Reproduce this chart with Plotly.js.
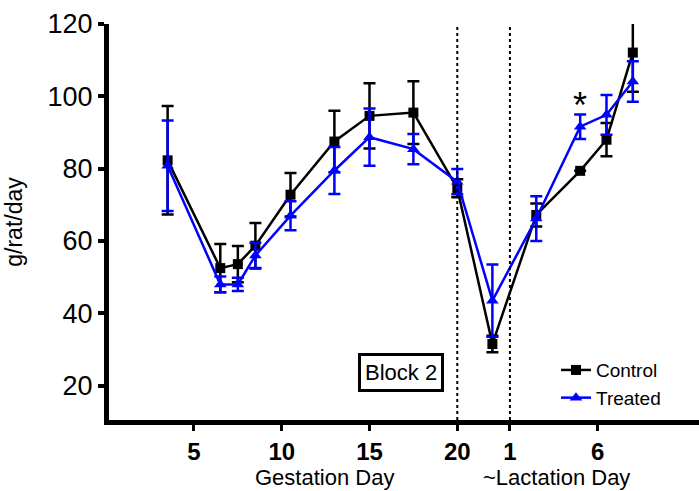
<!DOCTYPE html>
<html><head><meta charset="utf-8">
<script src="https://cdn.plot.ly/plotly-3.0.1.min.js"></script>
<style>html,body{margin:0;padding:0;background:#fff}#chart{width:699px;height:491px}</style>
</head><body><div id="chart"></div>
<script>
// x positions on a continuous day scale (gestation days, then lactation days offset by 22)
const dayPos = [3.5, 6.5, 7.5, 8.5, 10.5, 13, 15, 17.5, 20, 22, 24.5, 27, 28.5, 30];
const controlMean = [82.3, 52.5, 53.6, 58.7, 72.8, 87.5, 94.6, 95.5, 74.6, 31.5, 67.2, 79.4, 88.0, 112.1];
const controlErr  = [15, 6.7, 5, 6.3, 6, 8.5, 9, 8.7, 2.5, 2.3, 3.2, 0, 4.6, 10.8];
const treatedMean = [80.8, 48, 48, 56, 67, 79.5, 88.7, 85.4, 76.4, 43.5, 66.2, 91.6, 94.9, 104.1];
const treatedErr  = [12.5, 2.2, 1.8, 3.5, 4, 6.5, 7.9, 4.2, 3.5, 10, 6.2, 3.4, 5.5, 5.6];
const tickVals = [5, 10, 15, 20, 23, 28];
const tickText = ['5', '10', '15', '20', '1', '6'];
const yTicks = [20, 40, 60, 80, 100, 120];
const phaseBounds = [20, 23];
const seriesNames = ['Control', 'Treated'];

const FONT = 'Liberation Sans, Arial, sans-serif';

const traces = [
  {
    x: dayPos, y: controlMean, name: seriesNames[0], type: 'scatter', mode: 'lines+markers',
    line: {color: '#000000', width: 2.5},
    marker: {symbol: 'square', size: 10, color: '#000000'},
    error_y: {type: 'data', array: controlErr, visible: true, color: '#000000', thickness: 2.5, width: 6}
  },
  {
    x: dayPos, y: treatedMean, name: seriesNames[1], type: 'scatter', mode: 'lines+markers',
    line: {color: '#0000ff', width: 2.5},
    marker: {symbol: 'triangle-up', size: 11, color: '#0000ff'},
    error_y: {type: 'data', array: treatedErr, visible: true, color: '#0000ff', thickness: 2.5, width: 6}
  }
];

const layout = {
  width: 699, height: 491,
  margin: {l: 109, r: 0, t: 24, b: 71, pad: 0},
  paper_bgcolor: '#ffffff', plot_bgcolor: '#ffffff',
  font: {family: FONT, color: '#000000'},
  showlegend: true,
  legend: {
    x: 0.7576, y: 0.174, xanchor: 'left', yanchor: 'top',
    font: {size: 19, family: FONT, color: '#000'}, itemwidth: 30,
    bgcolor: 'rgba(0,0,0,0)', borderwidth: 0, tracegroupgap: 0
  },
  xaxis: {
    range: [0.16, 33.77], tickmode: 'array', tickvals: tickVals, ticktext: tickText,
    showline: true, linewidth: 5, linecolor: '#000', mirror: false,
    ticks: 'outside', ticklen: 6, tickwidth: 3, tickcolor: '#000',
    tickfont: {size: 24, family: FONT, weight: 'bold', color: '#000'},
    showgrid: false, zeroline: false, fixedrange: true
  },
  yaxis: {
    range: [10.5, 120], tickmode: 'array', tickvals: yTicks,
    showline: true, linewidth: 5, linecolor: '#000',
    ticks: 'outside', ticklen: 6, tickwidth: 4, tickcolor: '#000',
    tickfont: {size: 27, family: FONT, color: '#000'},
    showgrid: false, zeroline: false, fixedrange: true,
    title: {text: 'g/rat/day', standoff: 20, font: {size: 23, family: FONT, color: '#000'}}
  },
  shapes: phaseBounds.map(v => ({
    type: 'line', xref: 'x', yref: 'y', x0: v, x1: v, y0: 10.5, y1: 120.5,
    line: {color: '#000', width: 2, dash: 'dot'}
  })),
  annotations: [
    {text: 'Gestation Day', x: 12.46, xref: 'x', y: -0.145, yref: 'paper', yanchor: 'middle', showarrow: false, font: {size: 22, family: FONT}},
    {text: '~Lactation Day', x: 25.68, xref: 'x', y: -0.145, yref: 'paper', yanchor: 'middle', showarrow: false, font: {size: 22, family: FONT}},
    {text: 'Block 2', x: 16.77, xref: 'x', y: 23.6, yref: 'y', showarrow: false, font: {size: 22, family: FONT},
     bordercolor: '#000', borderwidth: 3, borderpad: 4, bgcolor: '#fff'},
    {text: '*', x: 27, xref: 'x', y: 97.6, yref: 'y', showarrow: false, font: {size: 36, family: FONT}}
  ]
};

Plotly.newPlot('chart', traces, layout, {displayModeBar: false, staticPlot: true});
</script>
</body></html>
